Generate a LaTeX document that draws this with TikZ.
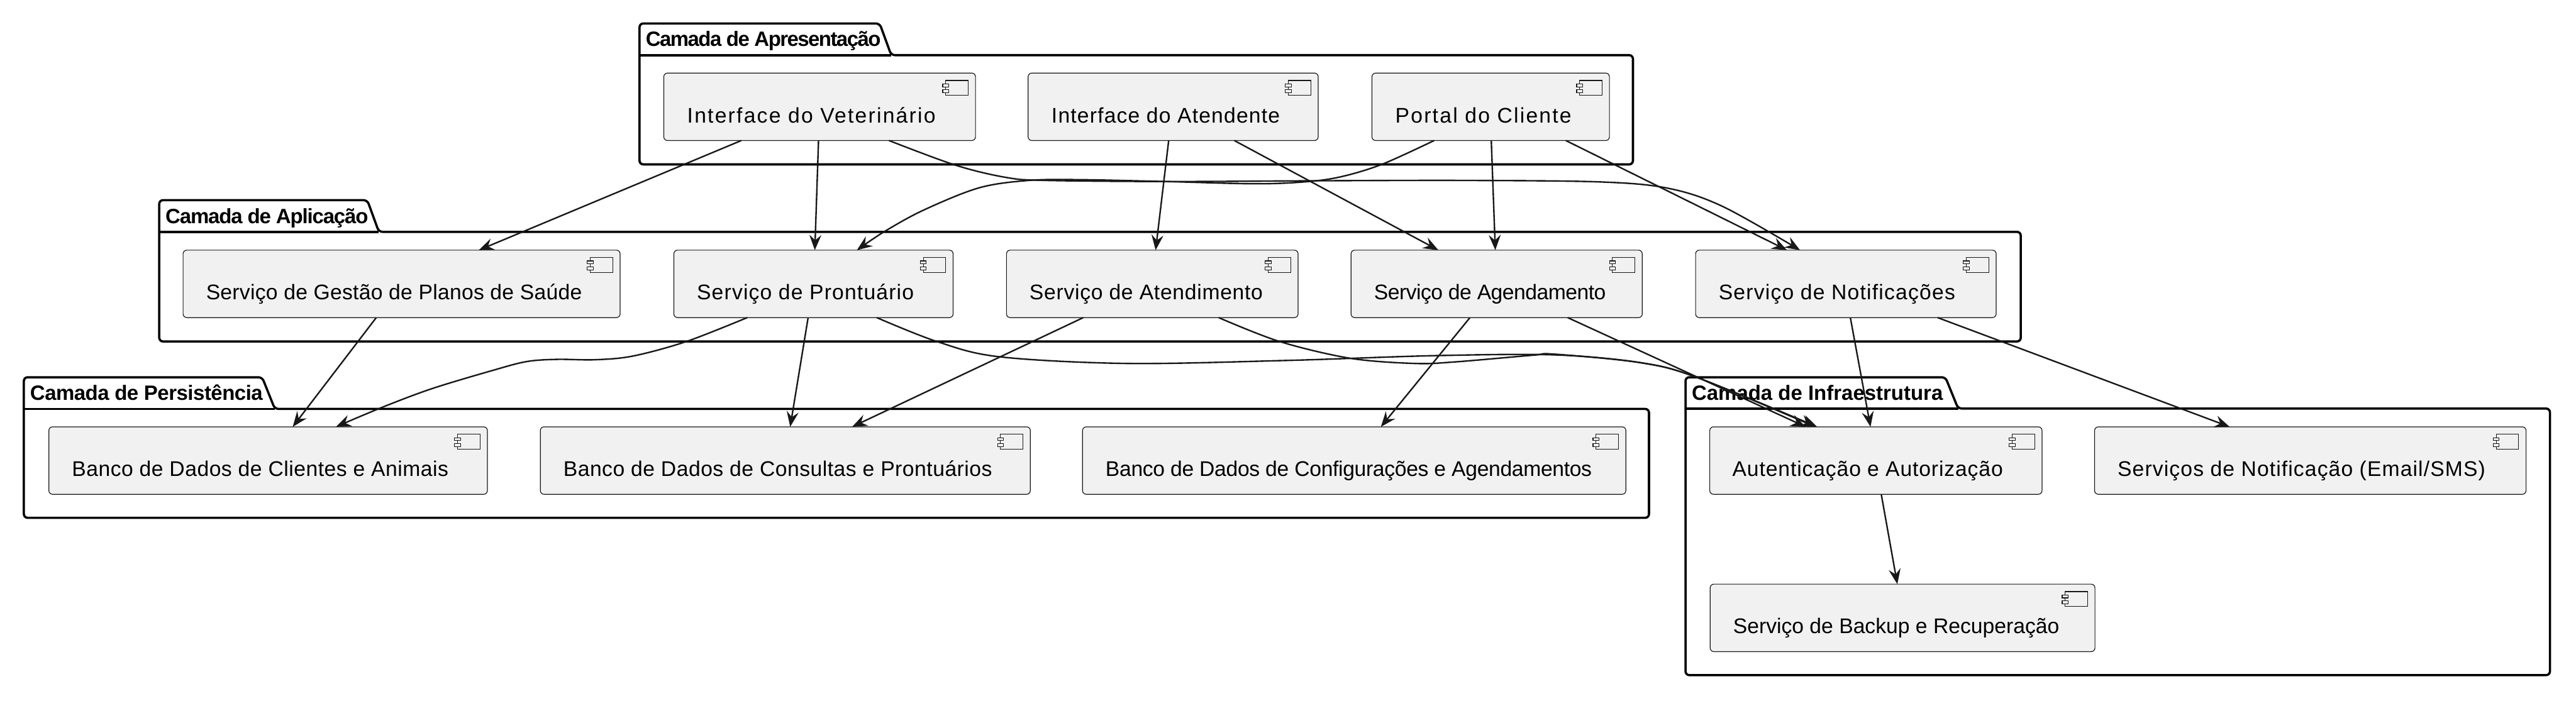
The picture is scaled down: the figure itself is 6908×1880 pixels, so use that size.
\documentclass[tikz,border=0pt]{standalone}
\usepackage{fontspec}
\setmainfont{Liberation Sans}
\usetikzlibrary{arrows.meta,fit}
\definecolor{compfill}{HTML}{F1F1F1}
\definecolor{compline}{HTML}{181818}
\tikzset{
  pkgline/.style={line width=1.5pt,black,rounded corners=2.5pt},
  pkgtitle/.style={anchor=base west,inner sep=0pt,font=\fontsize{13.9}{17}\selectfont\bfseries\addfontfeature{LetterSpace=#1}},
  pkgtitle/.default=0,
  comp/.style={draw=compline,fill=compfill,line width=0.5pt,rounded corners=2.5pt,inner sep=0pt,outer sep=0pt},
  complabel/.style={anchor=base west,inner sep=0pt,font=\fontsize{14.2}{17}\selectfont\addfontfeature{LetterSpace=#1}},
  complabel/.default=0,
  flow/.style={draw=compline,line width=1pt,-{Stealth[length=10.2pt,width=8pt,inset=3.6pt]}},
  compicon/.pic={
    \draw[compline,line width=0.5pt] (-80,20) rectangle (-20,60);
    \draw[compline,line width=0.5pt,fill=compfill] (-88,29) rectangle (-72,37);
    \draw[compline,line width=0.5pt,fill=compfill] (-88,45) rectangle (-72,53);
  }
}
\begin{document}
\begin{tikzpicture}[x=0.25pt,y=-0.25pt]
  \useasboundingbox (0,0) rectangle (6908,1880);

  % Camada de Apresentacao
  \draw[pkgline] (1715,148) -- (1715,63) -- (2359,63) -- (2390,148) -- (4379,148) -- (4379,441) -- (1715,441) -- cycle;
  \draw[pkgline] (1715,148) -- (2390,148);
  \node[pkgtitle=-4.7] (aprtitle) at (1731,124) {Camada de Apresentação};

  % Camada de Aplicacao
  \draw[pkgline] (427,622) -- (427,537) -- (985,537) -- (1016,622) -- (5419,622) -- (5419,916) -- (427,916) -- cycle;
  \draw[pkgline] (427,622) -- (1016,622);
  \node[pkgtitle=-3.5] (apltitle) at (443,599) {Camada de Aplicação};

  % Camada de Persistencia
  \draw[pkgline] (64,1097) -- (64,1012) -- (703,1012) -- (737,1097) -- (4422,1097) -- (4422,1389) -- (64,1389) -- cycle;
  \draw[pkgline] (64,1097) -- (737,1097);
  \node[pkgtitle=-1.5] (pertitle) at (80,1073) {Camada de Persistência};

  % Camada de Infraestrutura
  \draw[pkgline] (4520,1096) -- (4520,1012) -- (5217,1012) -- (5251,1096) -- (6838,1096) -- (6838,1811) -- (4520,1811) -- cycle;
  \draw[pkgline] (4520,1096) -- (5251,1096);
  \node[pkgtitle] (inftitle) at (4536,1073) {Camada de Infraestrutura};

  % Interfaces
  \node[comp,fit={(1780,196) (2616,377)}] (vet) {};
  \node[complabel=6.6] (vettxt) at (1842,329) {Interface do Veterinário};
  \pic at (vet.north east) {compicon};
  \node[comp,fit={(2757,196) (3535,377)}] (atend) {};
  \node[complabel=3.5] (atendtxt) at (2819,329) {Interface do Atendente};
  \pic at (atend.north east) {compicon};
  \node[comp,fit={(3679,196) (4316,377)}] (portal) {};
  \node[complabel=6.6] (portaltxt) at (3741,329) {Portal do Cliente};
  \pic at (portal.north east) {compicon};

  % Servicos
  \node[comp,fit={(491,671) (1663,852)}] (gestao) {};
  \node[complabel=0.8] (gestaotxt) at (552,803) {Serviço de Gestão de Planos de Saúde};
  \pic at (gestao.north east) {compicon};
  \node[comp,fit={(1807,671) (2556,852)}] (pront) {};
  \node[complabel=3.5] (pronttxt) at (1868,803) {Serviço de Prontuário};
  \pic at (pront.north east) {compicon};
  \node[comp,fit={(2699,671) (3481,852)}] (atendim) {};
  \node[complabel=2.1] (atendimtxt) at (2760,803) {Serviço de Atendimento};
  \pic at (atendim.north east) {compicon};
  \node[comp,fit={(3623,671) (4404,852)}] (agend) {};
  \node[complabel=-1.5] (agendtxt) at (3684,803) {Serviço de Agendamento};
  \pic at (agend.north east) {compicon};
  \node[comp,fit={(4547,671) (5353,852)}] (notif) {};
  \node[complabel=3.6] (notiftxt) at (4608,803) {Serviço de Notificações};
  \pic at (notif.north east) {compicon};

  % Bancos de dados
  \node[comp,fit={(131,1145) (1307,1326)}] (clientes) {};
  \node[complabel=1.5] (clientestxt) at (192,1277) {Banco de Dados de Clientes e Animais};
  \pic at (clientes.north east) {compicon};
  \node[comp,fit={(1449,1145) (2763,1326)}] (consultas) {};
  \node[complabel=1.5] (consultastxt) at (1510,1277) {Banco de Dados de Consultas e Prontuários};
  \pic at (consultas.north east) {compicon};
  \node[comp,fit={(2903,1145) (4360,1326)}] (config) {};
  \node[complabel=-1] (configtxt) at (2964,1277) {Banco de Dados de Configurações e Agendamentos};
  \pic at (config.north east) {compicon};

  % Infraestrutura
  \node[comp,fit={(4585,1145) (5476,1326)}] (autent) {};
  \node[complabel=2.6] (autenttxt) at (4645,1277) {Autenticação e Autorização};
  \pic at (autent.north east) {compicon};
  \node[comp,fit={(5617,1145) (6774,1326)}] (servnot) {};
  \node[complabel=3.3] (servnottxt) at (5678,1277) {Serviços de Notificação (Email/SMS)};
  \pic at (servnot.north east) {compicon};
  \node[comp,fit={(4586,1567) (5618,1748)}] (backup) {};
  \node[complabel] (backuptxt) at (4647,1699) {Serviço de Backup e Recuperação};
  \pic at (backup.north east) {compicon};

  % Interfaces para servicos
  \draw[flow] ([xshift=-52.5pt]vet.south) -- ([xshift=51.75pt]gestao.north);
  \draw[flow] ([xshift=-0.75pt]vet.south) -- ([xshift=0.9pt]pront.north);
  \draw[flow] plot[smooth,tension=0.55] coordinates {([xshift=46.5pt]vet.south) (2562,443) (2698,476) (2805,484) (3134,487) (3525,485) (3922,484) (4290,488) (4473,505) (4620,554) ([xshift=-30.75pt]notif.north)};
  \draw[flow] ([xshift=-3pt]atend.south) -- ([xshift=2.25pt]atendim.north);
  \draw[flow] ([xshift=41pt]atend.south) -- ([xshift=-39.1pt]agend.north);
  \draw[flow] plot[smooth,tension=0.55] coordinates {([xshift=-37.9pt]portal.south) (3708,440) (3601,473) (3509,487) (3371,493) (3127,487) (2897,482) (2759,484) (2625,504) (2476,564) (2372,621) ([xshift=29.1pt]pront.north)};
  \draw[flow] ([xshift=0.4pt]portal.south) -- ([xshift=-0.9pt]agend.north);
  \draw[flow] ([xshift=50.4pt]portal.south) -- ([xshift=-39.5pt]notif.north);

  % Servicos para bancos e infraestrutura
  \draw[flow] ([xshift=-17pt]gestao.south) -- ([xshift=16.5pt]clientes.north);
  \draw[flow] plot[smooth,tension=0.55] coordinates {([xshift=-44.4pt]pront.south) (1841,916) (1698,955) (1596,965) (1494,964) (1412,970) (1320,994) (1157,1043) (1024,1093) ([xshift=45.5pt]clientes.north)};
  \draw[flow] ([xshift=-3.6pt]pront.south) -- ([xshift=3.25pt]consultas.north);
  \draw[flow] plot[smooth,tension=0.55] coordinates {([xshift=42.4pt]pront.south) (2512,916) (2679,957) (3023,975) (3448,967) (3850,954) (4168,952) (4400,973) (4552,1013) ([xshift=-39.4pt]autent.north)};
  \draw[flow] ([xshift=-46.25pt]atendim.south) -- ([xshift=44.75pt]consultas.north);
  \draw[flow] plot[smooth,tension=0.55] coordinates {([xshift=44.5pt]atendim.south) (3431,916) (3620,961) (3793,975) (3900,971) (4110,953) (4168,950) (4400,973) (4552,1013) ([xshift=-40.6pt]autent.north)};
  \draw[flow] ([xshift=-17.9pt]agend.south) -- ([xshift=17.9pt]config.north);
  \draw[flow] ([xshift=47.6pt]agend.south) -- ([xshift=-47.1pt]autent.north);
  \draw[flow] ([xshift=3pt]notif.south) -- ([xshift=-3.6pt]autent.north);
  \draw[flow] ([xshift=61.5pt]notif.south) -- ([xshift=-54.1pt]servnot.north);

  % Backup
  \draw[flow] ([xshift=3.6pt]autent.south) -- ([xshift=-3.5pt]backup.north);
\end{tikzpicture}
\end{document}
